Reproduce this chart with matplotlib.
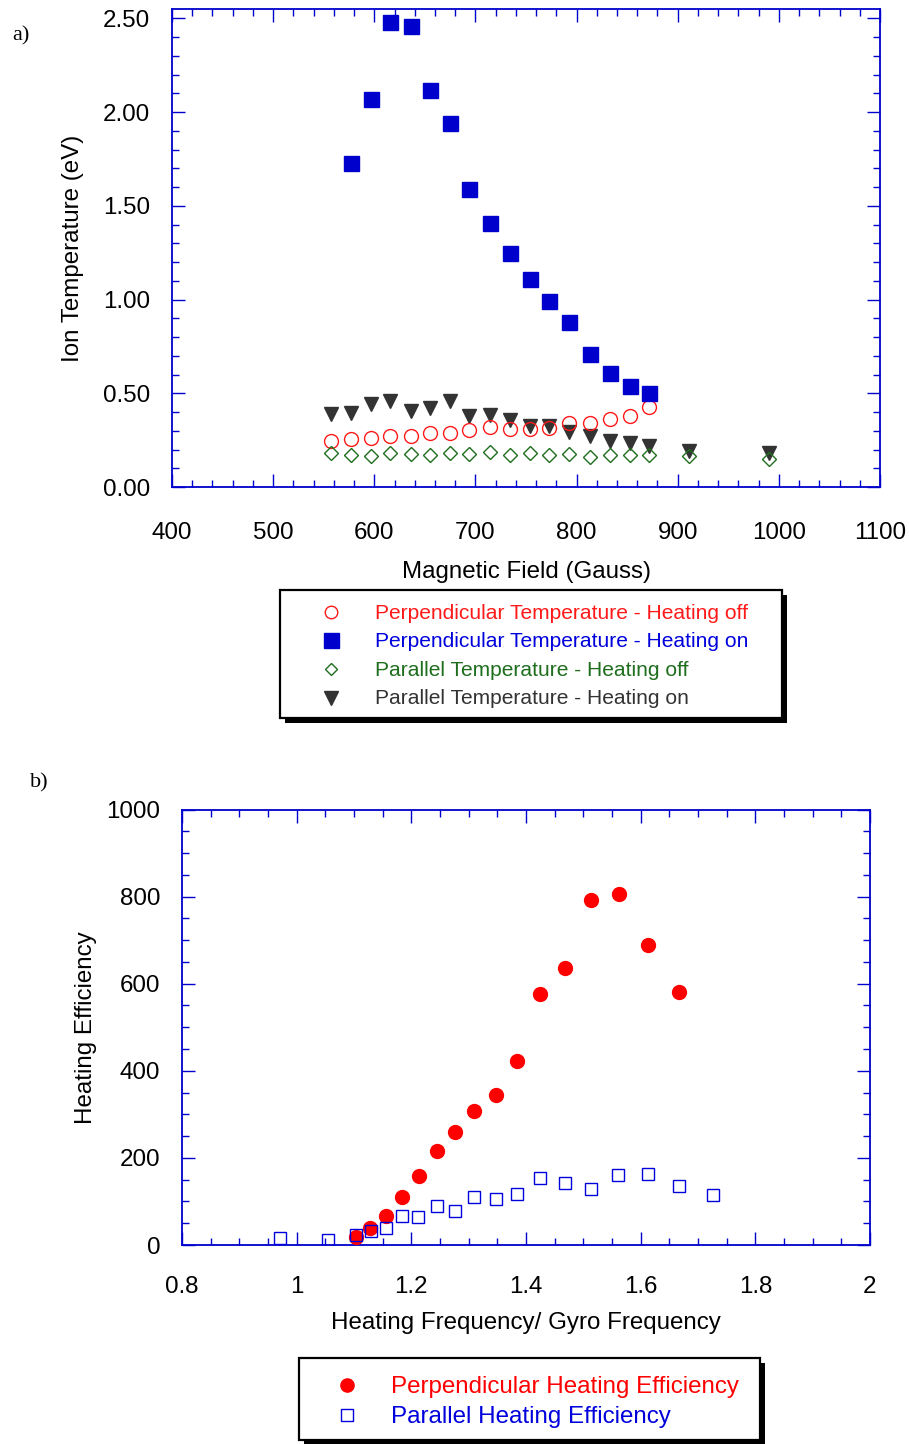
import matplotlib
matplotlib.use("Agg")
import matplotlib.pyplot as plt
from matplotlib.ticker import MultipleLocator, FormatStrFormatter, FuncFormatter
from matplotlib.patches import Rectangle

plt.rcParams['font.family'] = ['Liberation Sans', 'DejaVu Sans']

# ---------------- data: panel a ----------------
b_perp_off = [557, 577, 597, 616, 636, 655, 675, 694, 714, 734, 754, 773, 793, 813, 833, 853, 872]
t_perp_off = [0.245, 0.254, 0.263, 0.274, 0.274, 0.290, 0.286, 0.302, 0.320, 0.310, 0.310, 0.313,
              0.340, 0.343, 0.365, 0.381, 0.425]

b_perp_on = [577, 597, 616, 636, 655, 675, 694, 714, 734, 754, 773, 793, 813, 833, 853, 872]
t_perp_on = [1.73, 2.07, 2.48, 2.46, 2.12, 1.94, 1.59, 1.41, 1.25, 1.11, 0.99, 0.88, 0.71, 0.61,
             0.54, 0.50]

b_par_off = [557, 577, 597, 616, 636, 655, 675, 694, 714, 734, 754, 773, 793, 813, 833, 853, 872,
             911, 990]
t_par_off = [0.181, 0.169, 0.167, 0.180, 0.178, 0.173, 0.183, 0.174, 0.189, 0.171, 0.183, 0.169,
             0.176, 0.158, 0.171, 0.171, 0.171, 0.164, 0.150]

b_par_on = [557, 577, 597, 616, 636, 655, 675, 694, 714, 734, 754, 773, 793, 813, 833, 853, 872,
            911, 990]
t_par_on = [0.392, 0.397, 0.441, 0.459, 0.408, 0.424, 0.459, 0.379, 0.384, 0.356, 0.326, 0.326,
            0.294, 0.270, 0.244, 0.235, 0.217, 0.190, 0.180]

labels_a = ["Perpendicular Temperature - Heating off",
            "Perpendicular Temperature - Heating on",
            "Parallel Temperature - Heating off",
            "Parallel Temperature - Heating on"]

# ---------------- data: panel b ----------------
r_perp = [1.1035, 1.128, 1.156, 1.184, 1.213, 1.244, 1.277, 1.310, 1.347, 1.384, 1.424, 1.4675,
          1.513, 1.562, 1.613, 1.6675]
e_perp = [17.6, 39.8, 67.4, 109.4, 159.3, 215.8, 260.3, 307.7, 343.6, 423.3, 575.6, 635.3,
          792.9, 806.7, 689.6, 581.7]

r_par = [0.9715, 1.055, 1.103, 1.129, 1.156, 1.184, 1.212, 1.244, 1.277, 1.310, 1.347, 1.384,
         1.424, 1.4675, 1.513, 1.561, 1.613, 1.6665, 1.7255]
e_par = [16.8, 11.5, 23.0, 32.9, 39.8, 67.4, 65.1, 90.3, 78.8, 109.4, 106.4, 117.1, 153.1,
         143.1, 128.6, 161.4, 163.0, 135.5, 114.1]

labels_b = ["Perpendicular Heating Efficiency", "Parallel Heating Efficiency"]

# ---------------- styles ----------------
W, H = 909, 1444
AXC = '#0000CC'
RED = '#FF1A1A'
BLUE = '#0000CC'
GREEN = '#1E6E1E'
GRAY = '#333333'
FS = 17.4

fig = plt.figure(figsize=(W / 100, H / 100), dpi=100)


def px_axes(l, t, r, b):
    return fig.add_axes([l / W, (H - b) / H, (r - l) / W, (b - t) / H])


def style_axes(ax, xpad, ypad):
    for s in ax.spines.values():
        s.set_color(AXC)
        s.set_linewidth(1.3)
    ax.tick_params(which='both', direction='in', color=AXC, top=True, right=True,
                   labelsize=FS, width=1.0)
    ax.tick_params(which='major', length=9.4)
    ax.tick_params(which='minor', length=5.0)
    ax.tick_params(axis='x', pad=xpad)
    ax.tick_params(axis='y', pad=ypad)


# ---------------- panel a ----------------
ax1 = px_axes(172, 9, 880, 487)
ax1.plot(b_par_on, t_par_on, linestyle='none', marker='v', ms=10.5, mfc=GRAY, mec=GRAY, zorder=3)
ax1.plot(b_perp_off, t_perp_off, linestyle='none', marker='o', ms=10, mfc='none', mec=RED,
         mew=1.0, zorder=4)
ax1.plot(b_par_off, t_par_off, linestyle='none', marker='D', ms=6.8, mfc='none', mec=GREEN,
         mew=1.0, zorder=5)
ax1.plot(b_perp_on, t_perp_on, linestyle='none', marker='s', ms=10.8, mfc=BLUE, mec=BLUE, zorder=6)
ax1.set_xlim(400, 1100)
ax1.set_ylim(0, 2.55)
ax1.xaxis.set_major_locator(MultipleLocator(100))
ax1.xaxis.set_minor_locator(MultipleLocator(20))
ax1.yaxis.set_major_locator(MultipleLocator(0.5))
ax1.yaxis.set_minor_locator(MultipleLocator(0.1))
ax1.yaxis.set_major_formatter(FormatStrFormatter('%.2f'))
style_axes(ax1, 25, 15.8)
ax1.set_xlabel("Magnetic Field (Gauss)", fontsize=FS)
ax1.set_ylabel("Ion Temperature (eV)", fontsize=FS)
ax1.xaxis.set_label_coords(0.5, -0.154)
ax1.yaxis.set_label_coords(-0.124, 0.5)

# ---------------- panel b ----------------
ax2 = px_axes(182, 809.5, 870, 1245)
ax2.plot(r_perp, e_perp, linestyle='none', marker='o', ms=10, mfc='#FF0000', mec='#FF0000',
         zorder=3)
ax2.plot(r_par, e_par, linestyle='none', marker='s', ms=9.2, mfc='none', mec='#0000DD', mew=1.0,
         zorder=4)
ax2.set_xlim(0.8, 2.0)
ax2.set_ylim(0, 1000)
ax2.xaxis.set_major_locator(MultipleLocator(0.2))
ax2.xaxis.set_minor_locator(MultipleLocator(0.05))
ax2.yaxis.set_major_locator(MultipleLocator(200))
ax2.yaxis.set_minor_locator(MultipleLocator(50))
ax2.xaxis.set_major_formatter(FuncFormatter(lambda v, p: f"{v:g}"))
style_axes(ax2, 22, 15.8)
ax2.set_xlabel("Heating Frequency/ Gyro Frequency", fontsize=FS)
ax2.set_ylabel("Heating Efficiency", fontsize=FS)
ax2.xaxis.set_label_coords(0.5, -0.154)
ax2.yaxis.set_label_coords(-0.124, 0.5)

# ---------------- overlay (legends, panel labels) in pixel coords ----------------
ov = fig.add_axes([0, 0, 1, 1])
ov.set_xlim(0, W)
ov.set_ylim(H, 0)
ov.axis('off')
ov.set_zorder(10)


def legend_box(l, t, r, b, off=5):
    ov.add_patch(Rectangle((l + off, t + off), r - l, b - t, facecolor='black',
                           edgecolor='black', lw=0, zorder=1, clip_on=False))
    ov.add_patch(Rectangle((l, t), r - l, b - t, facecolor='white', edgecolor='black',
                           lw=1.6, zorder=2, clip_on=False))


legend_box(279.5, 590, 782, 718)
rows_a = [613.5, 641.5, 670.5, 699]
styles_a = [dict(marker='o', ms=9, mfc='none', mec=RED, mew=1.0),
            dict(marker='s', ms=10.8, mfc=BLUE, mec=BLUE),
            dict(marker='D', ms=6.3, mfc='none', mec=GREEN, mew=1.0),
            dict(marker='v', ms=10, mfc=GRAY, mec=GRAY)]
colors_a = [RED, '#0000DD', GREEN, GRAY]
for y, st, lab, c in zip(rows_a, styles_a, labels_a, colors_a):
    ov.plot([331], [y - 1.5], linestyle='none', zorder=3, clip_on=False, **st)
    ov.text(375, y, lab, color=c, fontsize=15.1, va='center', ha='left', zorder=3)

legend_box(298.5, 1358, 760, 1440)
rows_b = [1386.5, 1416.5]
styles_b = [dict(marker='o', ms=9.5, mfc='#FF0000', mec='#FF0000'),
            dict(marker='s', ms=9, mfc='none', mec='#0000DD', mew=1.0)]
colors_b = ['#FF0000', '#0000DD']
for y, st, lab, c in zip(rows_b, styles_b, labels_b, colors_b):
    ov.plot([347], [y - 1.5], linestyle='none', zorder=3, clip_on=False, **st)
    ov.text(391, y, lab, color=c, fontsize=FS, va='center', ha='left', zorder=3)

ov.text(12, 36, "a)", fontsize=16, family=['Liberation Serif', 'DejaVu Serif'],
        va='center', ha='left')
ov.text(30, 783, "b)", fontsize=16, family=['Liberation Serif', 'DejaVu Serif'],
        va='center', ha='left')

fig.savefig("out.png", dpi=100)
